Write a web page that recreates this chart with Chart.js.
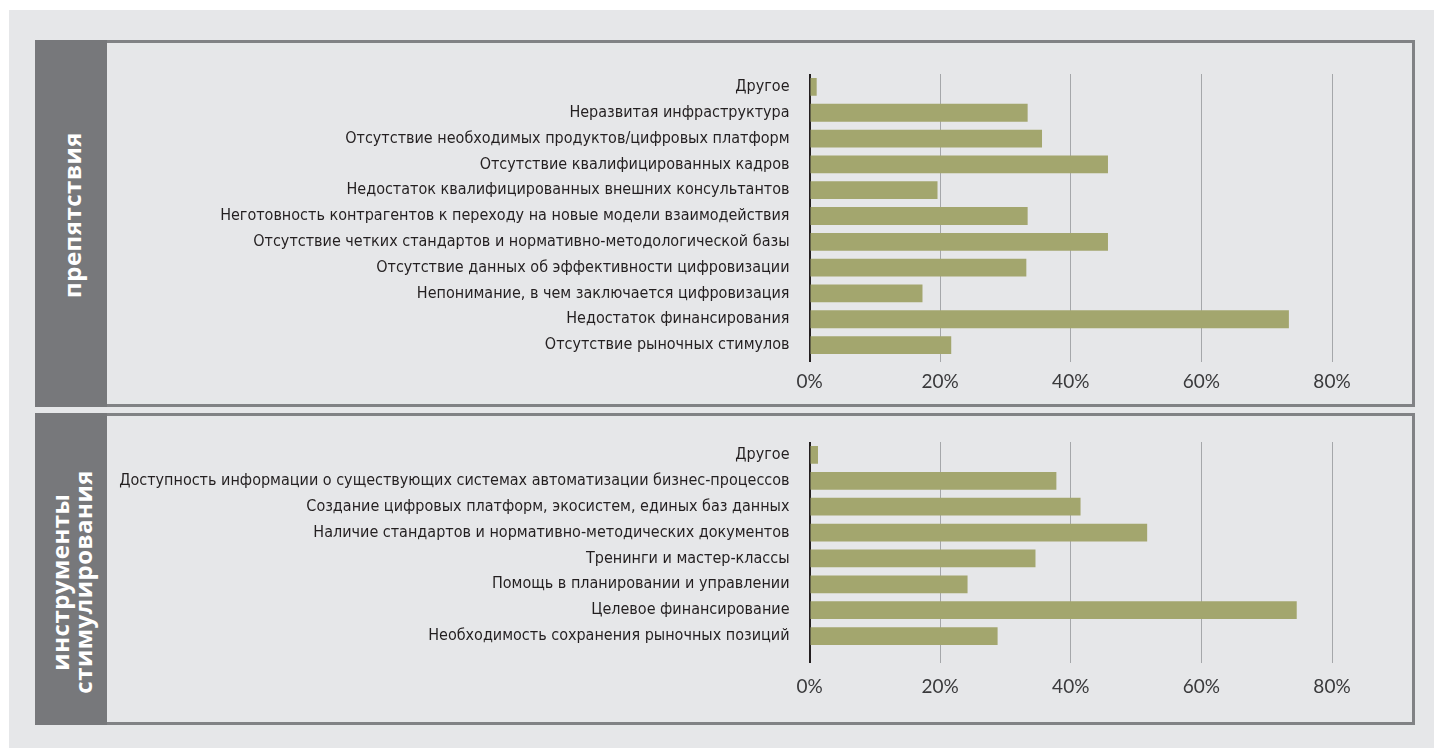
<!DOCTYPE html>
<html lang="ru">
<head>
<meta charset="utf-8">
<title>Препятствия и инструменты стимулирования</title>
<script src="https://cdn.jsdelivr.net/npm/chart.js@4"></script>
<style>
  html, body { margin: 0; padding: 0; background: #fff; }
  body { width: 1434px; height: 748px; position: relative; overflow: hidden; }
  .bg { position: absolute; left: 9px; top: 10px; width: 1425px; height: 738px; background: #e6e7e9; }
  .panel { position: absolute; left: 35px; width: 1380px; box-sizing: border-box;
           border: 3px solid #818285; border-left: none; }
  .side { position: absolute; left: 0; top: -3px; bottom: -3px; width: 72px; background: #77787b;
          display: flex; align-items: center; justify-content: center; }
  .side span { writing-mode: vertical-rl; transform: rotate(180deg); color: #fff;
               font-family: "Open Sans", sans-serif; font-weight: 700; font-size: 24px;
               letter-spacing: 0.5px; line-height: 23px; text-align: center; }
  canvas { position: absolute; left: 72px; }
</style>
</head>
<body>
<div class="bg"></div>

<div class="panel" style="top:40px; height:367px;">
  <div class="side"><span style="margin-bottom:18px">препятствия</span></div>
  <canvas id="obstacles" width="1305" height="361" style="top:0"></canvas>
</div>

<div class="panel" style="top:413px; height:312px;">
  <div class="side"><span style="margin-top:26px">инструменты<br>стимулирования</span></div>
  <canvas id="tools" width="1305" height="306" style="top:0"></canvas>
</div>

<script>
// препятствия, % ответивших
const obstacleLabels = [
  'Другое',
  'Неразвитая инфраструктура',
  'Отсутствие необходимых продуктов/цифровых платформ',
  'Отсутствие квалифицированных кадров',
  'Недостаток квалифицированных внешних консультантов',
  'Неготовность контрагентов к переходу на новые модели взаимодействия',
  'Отсутствие четких стандартов и нормативно-методологической базы',
  'Отсутствие данных об эффективности цифровизации',
  'Непонимание, в чем заключается цифровизация',
  'Недостаток финансирования',
  'Отсутствие рыночных стимулов'
];
const obstacleValues = [1.1, 33.4, 35.6, 45.7, 19.6, 33.4, 45.7, 33.2, 17.3, 73.4, 21.7];

// инструменты стимулирования, % ответивших
const toolLabels = [
  'Другое',
  'Доступность информации о существующих системах автоматизации бизнес-процессов',
  'Создание цифровых платформ, экосистем, единых баз данных',
  'Наличие стандартов и нормативно-методических документов',
  'Тренинги и мастер-классы',
  'Помощь в планировании и управлении',
  'Целевое финансирование',
  'Необходимость сохранения рыночных позиций'
];
const toolValues = [1.3, 37.8, 41.5, 51.7, 34.6, 24.2, 74.6, 28.8];

const xTicks = [0, 20, 40, 60, 80];

const BAR = '#a3a66e';
const INK = '#231f20';

function makeChart(id, labels, values, pad) {
  const ctx = document.getElementById(id).getContext('2d');
  return new Chart(ctx, {
    type: 'bar',
    data: {
      labels: labels,
      datasets: [{
        data: values,
        backgroundColor: BAR,
        borderWidth: 0,
        categoryPercentage: 1,
        barPercentage: 0.69
      }]
    },
    options: {
      indexAxis: 'y',
      responsive: false,
      animation: false,
      layout: { padding: { left: 0, right: 80, top: pad.top, bottom: 0 } },
      plugins: { legend: { display: false }, tooltip: { enabled: false } },
      scales: {
        x: {
          min: 0,
          max: 80,
          afterBuildTicks: s => { s.ticks = xTicks.map(v => ({ value: v })); },
          afterFit: s => { s.height = pad.axis; },
          border: { display: false },
          grid: {
            drawTicks: true,
            tickLength: pad.tick,
            color: c => (c.tick && c.tick.value === 0 ? INK : '#a5a7aa'),
            lineWidth: c => (c.tick && c.tick.value === 0 ? 2 : 1)
          },
          ticks: {
            padding: pad.label,
            color: '#3a3a3c',
            font: { family: 'Lato', size: 19 },
            callback: v => v + '%'
          }
        },
        y: {
          afterFit: s => { s.width = 702.5; },
          border: { display: false },
          grid: { display: false },
          ticks: {
            padding: 12,
            color: INK,
            font: { family: '"DejaVu Sans Condensed", sans-serif', size: 16 }
          }
        }
      }
    }
  });
}

makeChart('obstacles', obstacleLabels, obstacleValues, { top: 31, axis: 46, tick: 4, label: 8 });
makeChart('tools', toolLabels, toolValues, { top: 26, axis: 73, tick: 14, label: 12 });
</script>
</body>
</html>
